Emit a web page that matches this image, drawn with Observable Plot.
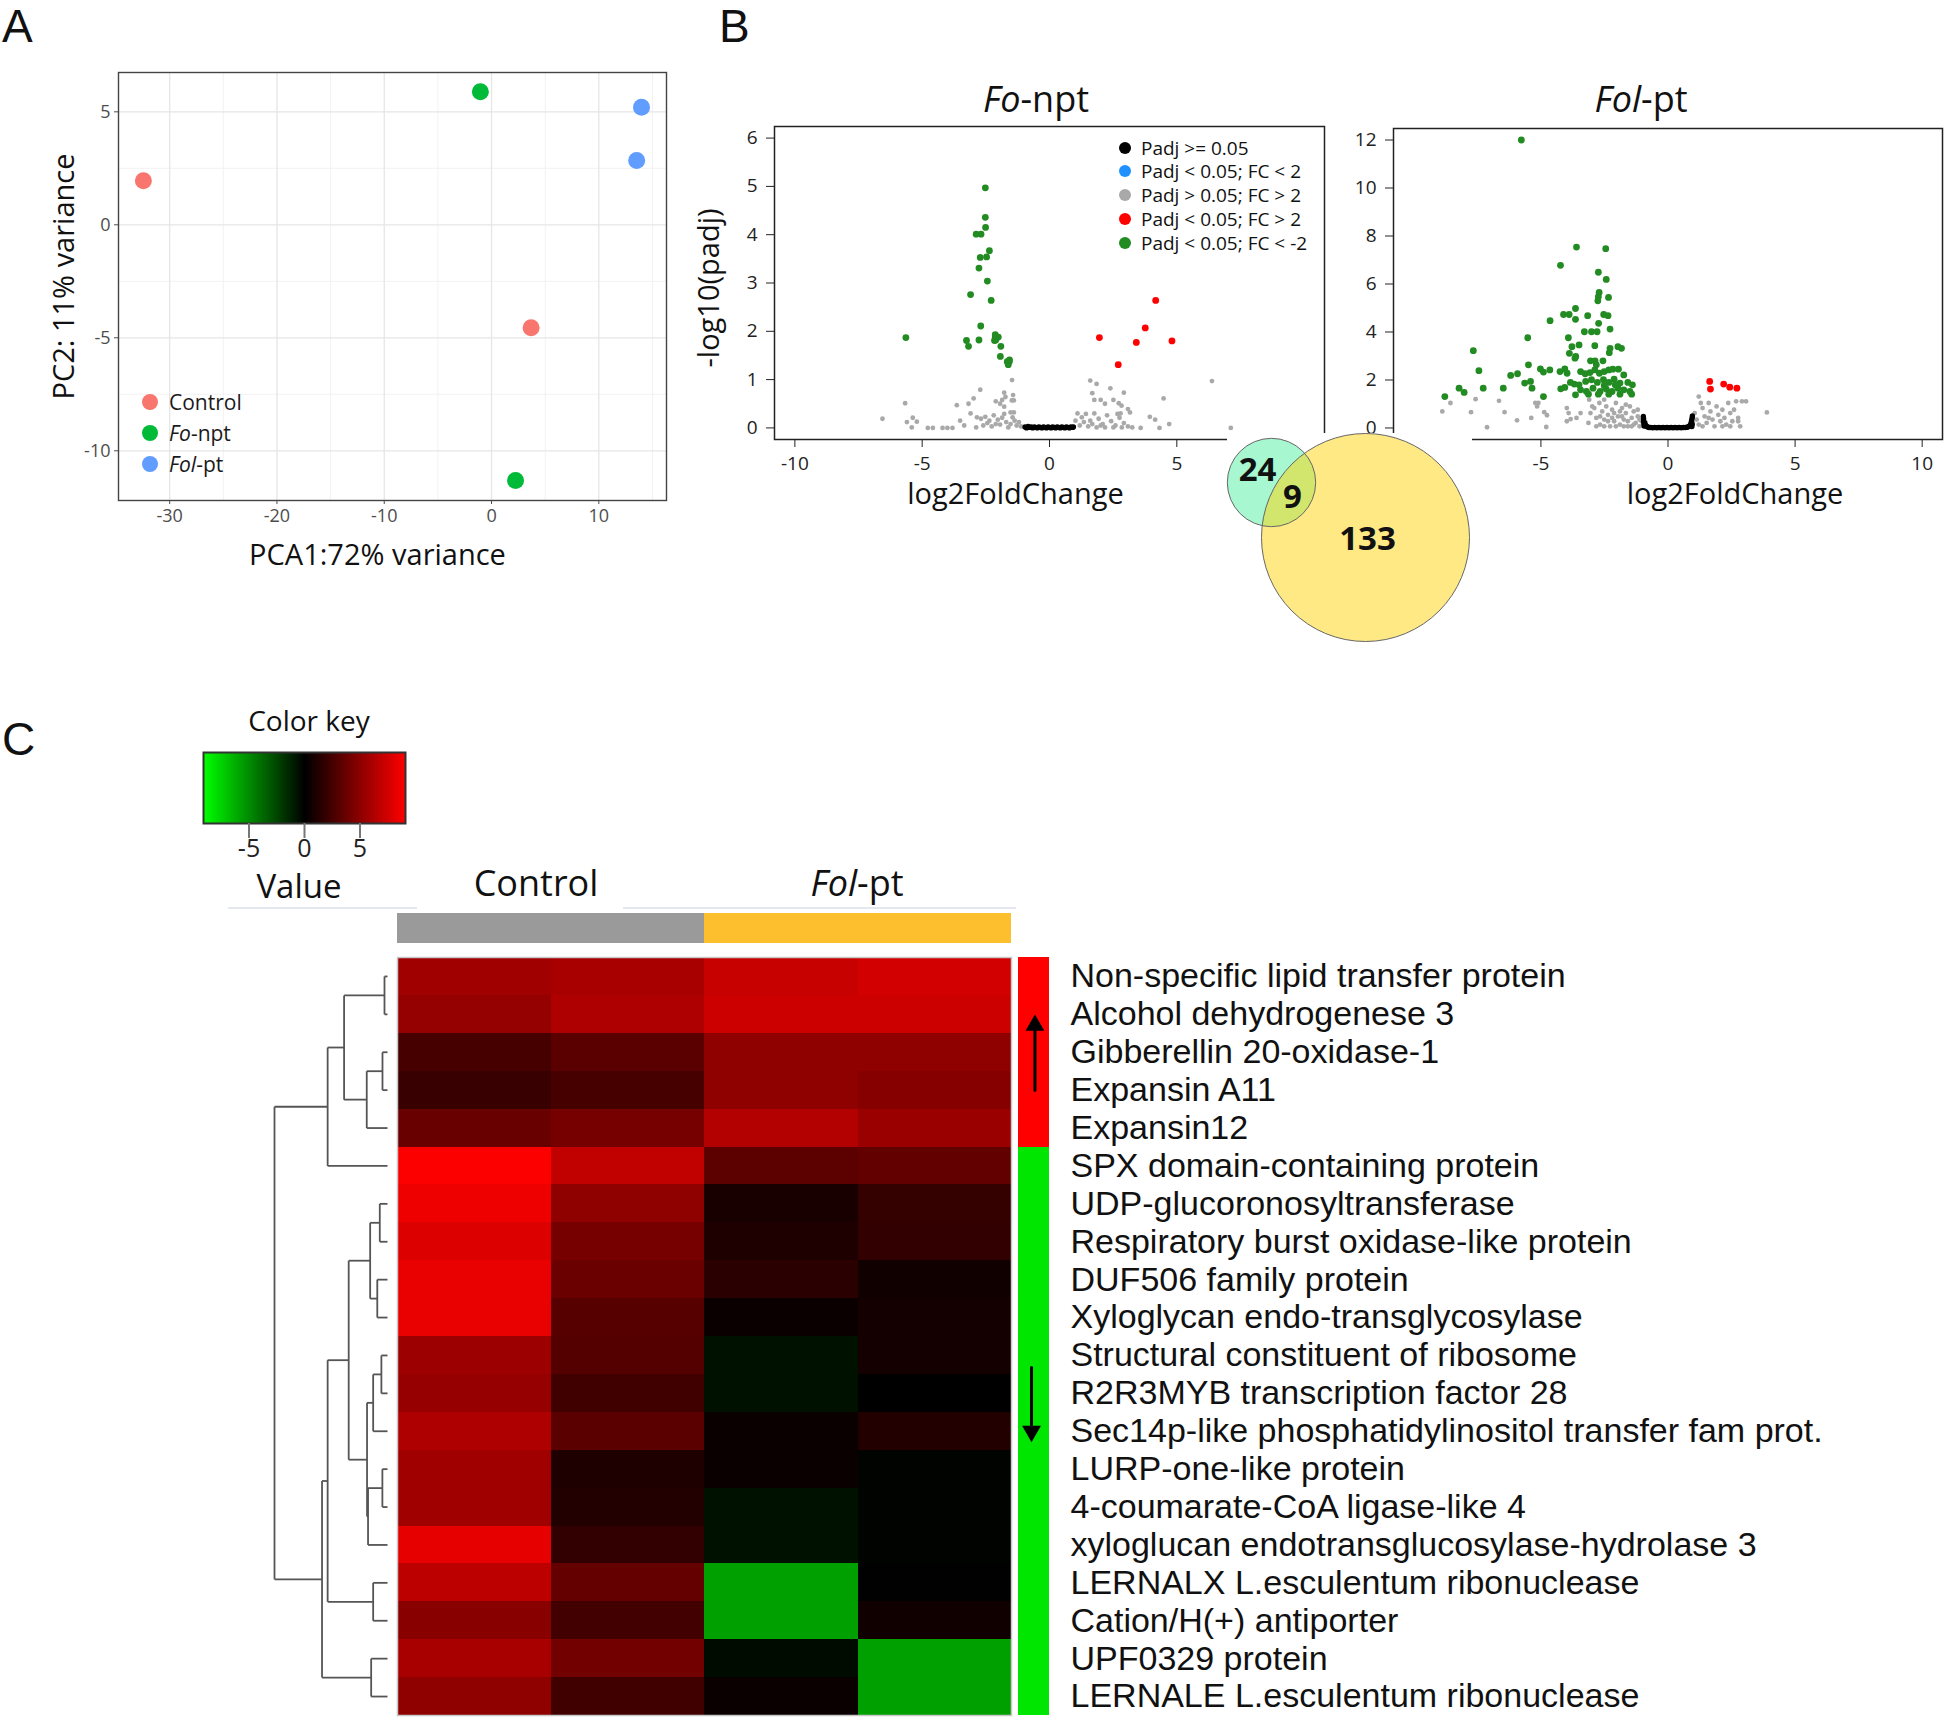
<!DOCTYPE html>
<html><head><meta charset="utf-8">
<script src="https://cdn.jsdelivr.net/npm/d3@7"></script>
<script src="https://cdn.jsdelivr.net/npm/@observablehq/plot@0.6"></script>
<style>
body{margin:0;background:#fff;}
#fig{position:relative;width:1946px;height:1723px;overflow:hidden;background:#fff;font-family:"Open Sans",sans-serif;}
</style></head><body><div id="fig"></div>
<script>
// ---------------- DATA ----------------
// Panel A: PCA
const pcaGroups = ["Control", "Control", "Fo-npt", "Fo-npt", "Fol-pt", "Fol-pt"];
const pcaPC1 = [-32.45, 3.69, -1.04, 2.24, 13.98, 13.53];
const pcaPC2 = [1.95, -4.56, 5.89, -11.32, 5.20, 2.85];
const pcaLegend = ["Control", "Fo-npt", "Fol-pt"];
const pcaXTicks = [-30, -20, -10, 0, 10];
const pcaYTicks = [-10, -5, 0, 5];
const pcaXMinor = [-25, -15, -5, 5, 15];
const pcaYMinor = [-7.5, -2.5, 2.5];

// Panel B: volcano plots
const volcanoCats = ["Padj >= 0.05", "Padj < 0.05; FC < 2", "Padj > 0.05; FC > 2", "Padj < 0.05; FC > 2", "Padj < 0.05; FC < -2"];
const volcanoXTicks = [-10, -5, 0, 5, 10];
const foNptYTicks = [0, 1, 2, 3, 4, 5, 6];
const folPtYTicks = [0, 2, 4, 6, 8, 10, 12];

const foNptDown = [[-2.52,4.97],[-2.52,4.36],[-2.51,4.15],[-2.88,4.01],[-2.69,4.01],[-2.36,3.67],[-2.72,3.53],[-2.47,3.54],[-2.77,3.31],[-2.44,3.04],[-3.10,2.76],[-2.29,2.64],[-2.70,2.11],[-5.64,1.87],[-3.26,1.81],[-3.18,1.69],[-2.77,1.82],[-2.13,1.93],[-2.01,1.88],[-2.16,1.81],[-1.91,1.69],[-1.93,1.48],[-1.66,1.37],[-1.58,1.37],[-1.62,1.31],[-2.13,1.88],[-1.57,1.41],[-2.11,1.82]];
const foNptUp = [[4.17,2.64],[3.76,2.07],[1.96,1.87],[3.41,1.77],[4.81,1.80],[2.70,1.31]];
const foNptNS = [[-6.56,0.19],[-5.67,0.51],[-5.60,0.12],[-5.41,0.01],[-5.37,0.21],[-5.21,0.13],[-4.78,0],[-4.58,0],[-4.20,0],[-4.01,0],[-3.81,0],[-3.64,0.47],[-3.51,0.15],[-3.35,0.05],[-3.18,0.50],[-3.10,0.30],[-2.98,0.61],[-2.72,0.79],[-1.47,0.99],[-1.78,0.73],[-1.86,0.58],[-1.73,0.64],[-2.11,0.55],[-1.43,0.68],[-1.48,0.57],[-1.40,0.57],[-1.94,0.50],[-1.78,0.44],[-1.53,0.32],[-1.40,0.32],[-2.85,0.22],[-2.69,0.19],[-2.52,0.23],[-2.36,0.15],[-2.19,0.26],[-2.03,0.17],[-1.86,0.21],[-1.70,0.12],[-1.53,0.08],[-1.37,0.15],[-1.29,0.05],[-1.12,0.03],[-2.60,0.05],[-2.27,0.03],[-1.94,0.07],[-1.62,0.01],[-2.88,0.01],[-2.44,0.10],[-2.11,0.08],[-1.45,0.22],[-1.20,0.12],[-1.78,0.29],
  [1.60,0.98],[1.85,0.91],[1.68,0.72],[2.39,0.82],[2.92,0.73],[1.76,0.58],[2.01,0.58],[2.51,0.58],[2.18,0.50],[2.72,0.51],[2.83,0.46],[3.08,0.39],[3.16,0.32],[2.79,0.30],[3.25,0.01],[3.58,0],[3.94,0.23],[4.15,0.17],[4.32,0],[4.48,0.61],[4.70,0.08],[6.38,0.97],[7.12,0],[1.10,0.30],[1.27,0.22],[1.43,0.29],[1.60,0.15],[1.76,0.30],[1.93,0.19],[2.09,0.08],[2.26,0.26],[2.42,0.14],[2.59,0.05],[2.75,0.21],[2.92,0.10],[3.08,0.03],[1.19,0.05],[1.52,0.03],[1.85,0.01],[2.18,0.01],[2.51,0.01],[2.84,0.01],[1.35,0.12],[1.68,0.08],[2.01,0.05],[1.02,0.15],[2.67,0.29]];
const foNptBase = [[-0.96,0.02],[-0.90,0.0],[-0.84,0.03],[-0.78,0.01],[-0.72,0.02],[-0.66,0.0],[-0.60,0.02],[-0.54,0.01],[-0.48,0.0],[-0.42,0.02],[-0.36,0.01],[-0.30,0.0],[-0.24,0.02],[-0.18,0.01],[-0.12,0.0],[-0.06,0.02],[0.0,0.01],[0.06,0.0],[0.12,0.02],[0.18,0.01],[0.24,0.0],[0.30,0.02],[0.36,0.01],[0.42,0.0],[0.48,0.02],[0.54,0.01],[0.60,0.0],[0.66,0.02],[0.72,0.01],[0.78,0.0],[0.84,0.02],[0.90,0.01],[0.94,0.02]];

const folPtDown = [[-5.77,12.0],[-3.60,7.54],[-2.45,7.47],[-4.23,6.78],[-2.74,6.49],[-2.43,6.19],[-2.71,5.65],[-2.74,5.47],[-2.34,5.44],[-2.76,5.30],[-3.64,4.98],[-4.11,4.73],[-3.89,4.73],[-3.16,4.68],[-2.53,4.73],[-2.36,4.68],[-3.64,4.53],[-4.64,4.47],[-2.73,4.36],[-2.28,4.12],[-3.29,4.01],[-3.01,4.01],[-2.79,4.01],[-5.52,3.76],[-3.92,3.76],[-3.78,3.39],[-3.50,3.46],[-2.88,3.43],[-2.28,3.32],[-1.97,3.39],[-1.83,3.32],[-2.31,3.14],[-7.66,3.22],[-3.88,3.11],[-3.66,2.91],[-3.63,2.98],[-3.05,2.80],[-2.87,2.80],[-2.56,2.80],[-2.82,2.63],[-5.49,2.63],[-7.44,2.39],[-5.02,2.46],[-4.90,2.33],[-4.65,2.42],[-4.25,2.35],[-4.06,2.46],[-3.97,2.28],[-3.44,2.35],[-3.26,2.26],[-3.07,2.31],[-2.88,2.42],[-2.70,2.28],[-2.51,2.35],[-2.33,2.42],[-2.17,2.45],[-1.95,2.45],[-1.74,2.21],[-6.19,2.19],[-5.92,2.26],[-5.64,1.87],[-5.41,1.94],[-5.35,1.66],[-3.84,1.90],[-3.69,1.83],[-3.24,1.94],[-3.01,2.01],[-2.78,1.90],[-2.54,2.01],[-2.33,1.90],[-2.12,2.03],[-1.89,1.87],[-1.58,1.90],[-1.40,1.80],[-8.22,1.66],[-8.02,1.48],[-7.27,1.66],[-6.48,1.66],[-4.22,1.63],[-4.06,1.69],[-3.44,1.59],[-3.21,1.52],[-2.95,1.66],[-2.67,1.52],[-2.43,1.62],[-2.20,1.52],[-1.97,1.66],[-1.74,1.59],[-1.50,1.52],[-8.78,1.31],[-4.90,1.31],[-3.64,1.38],[-3.13,1.41],[-2.74,1.41],[-2.33,1.41],[-1.89,1.41],[-1.43,1.41],[-3.50,1.80],[-2.51,1.76],[-2.08,1.80]];
const folPtUp = [[1.64,1.94],[1.67,1.62],[2.19,1.83],[2.43,1.70],[2.71,1.66]];
const folPtNS = [[-8.88,0.69],[-8.56,1.04],[-7.75,0.66],[-7.57,1.20],[-7.12,0.03],[-6.65,1.13],[-6.43,0.66],[-5.94,0.32],[-5.38,0.42],[-5.22,1.04],[-5.10,1.04],[-5.15,0.90],[-4.87,0.66],[-4.76,0.53],[-4.79,0.04],[-3.98,0.83],[-3.91,0.62],[-3.98,0.28],[-3.83,0.37],[-3.60,0.42],[-3.44,0.62],[-3.10,1.18],[-2.98,0.90],
  [-3.13,0.21],[-3.05,0.62],[-2.90,0.83],[-2.82,0.42],[-2.70,1.04],[-2.67,0.14],[-2.59,0.69],[-2.51,0.35],[-2.43,0.90],[-2.36,0.55],[-2.28,0.07],[-2.20,0.76],[-2.12,0.28],[-2.05,1.04],[-1.97,0.48],[-1.89,0.14],[-1.81,0.83],[-1.74,0.35],[-1.66,0.62],[-1.58,0.07],[-1.50,0.90],[-1.43,0.42],[-1.35,0.69],[-1.27,0.21],[-1.19,0.48],[-1.12,0.07],[-1.04,0.28],[-2.51,1.18],[-2.05,0.07],[-1.74,0.07],[-1.43,0.07],[-2.67,0.48],[-2.36,0.28],[-2.12,0.62],[-1.81,0.48],[-1.58,0.28],[-1.35,0.14],[-1.19,0.76],[-2.51,0.07],[-2.82,0.07],[-2.20,0.42],[-1.89,0.69],[-1.66,0.97],[-1.12,0.35],
  [1.21,1.31],[1.29,1.04],[1.05,0.62],[1.13,0.35],[1.21,0.14],[1.36,0.83],[1.44,0.48],[1.52,0.21],[1.60,1.04],[1.67,0.69],[1.75,0.35],[1.83,0.07],[1.91,0.90],[1.98,0.55],[2.06,0.28],[2.14,0.76],[2.22,0.42],[2.29,0.14],[2.37,1.04],[2.45,0.62],[2.53,0.28],[2.60,0.76],[2.68,1.11],[2.76,0.42],[2.84,0.07],[2.91,1.11],[3.07,1.11],[2.76,0.28],[3.89,0.65],[0.98,0.21],[1.36,0.07],[2.14,0.07],[2.45,0.07],[1.60,0.42]];
const folPtBase = [[-0.97,0.48],[-0.96,0.38],[-0.96,0.28],[-0.95,0.18],[-0.94,0.08],[-0.91,0.22],[-0.88,0.12],[-0.85,0.07],[-0.80,0.04],[-0.75,0.02],[-0.68,0.02],[-0.60,0.01],[-0.52,0.02],[-0.44,0.01],[-0.36,0.02],[-0.28,0.01],[-0.20,0.02],[-0.12,0.01],[-0.04,0.02],[0.04,0.01],[0.12,0.02],[0.20,0.01],[0.28,0.02],[0.36,0.01],[0.44,0.02],[0.52,0.01],[0.60,0.02],[0.68,0.02],[0.75,0.03],[0.80,0.05],[0.85,0.08],[0.88,0.13],[0.91,0.22],[0.93,0.32],[0.95,0.42],[0.96,0.50],[0.94,0.06],[0.95,0.16]];

// Venn counts (Fo-npt only, shared, Fol-pt only)
const vennLabels = ["Fo-npt only", "shared", "Fol-pt only"];
const vennCounts = [24, 9, 133];

// Panel C: heatmap
const genes = ["Non-specific lipid transfer protein", "Alcohol dehydrogenese 3", "Gibberellin 20-oxidase-1", "Expansin A11", "Expansin12", "SPX domain-containing protein", "UDP-glucoronosyltransferase", "Respiratory burst oxidase-like protein", "DUF506 family protein", "Xyloglycan endo-transglycosylase", "Structural constituent of ribosome", "R2R3MYB transcription factor 28", "Sec14p-like phosphatidylinositol transfer fam prot.", "LURP-one-like protein", "4-coumarate-CoA ligase-like 4", "xyloglucan endotransglucosylase-hydrolase 3", "LERNALX L.esculentum ribonuclease", "Cation/H(+) antiporter", "UPF0329 protein", "LERNALE L.esculentum ribonuclease"];
const geneDirection = ["up","up","up","up","up","down","down","down","down","down","down","down","down","down","down","down","down","down","down","down"];
const samples = ["Control 1", "Control 2", "Fol-pt 1", "Fol-pt 2"];
const sampleGroups = ["Control", "Control", "Fol-pt", "Fol-pt"];
const control1 = [5.7, 5.3, 2.5, 2.0, 3.7, 9.0, 8.5, 7.9, 8.3, 8.3, 5.6, 5.4, 6.2, 5.7, 5.7, 8.2, 6.7, 4.9, 6.0, 5.1];
const control2 = [6.0, 6.2, 3.2, 2.5, 4.2, 6.9, 5.1, 4.2, 3.8, 3.1, 3.0, 2.3, 3.2, 1.1, 1.2, 1.8, 3.6, 2.4, 4.1, 2.3];
const folpt1   = [7.1, 7.3, 5.1, 5.1, 6.4, 3.3, 0.85, 1.1, 1.55, 0.4, -0.6, -0.6, 0.35, 0.4, -0.6, -0.6, -5.7, -5.7, -0.4, 0.35];
const folpt2   = [7.5, 7.3, 5.1, 4.8, 5.5, 3.5, 1.9, 1.8, 0.6, 0.7, 0.7, 0.05, 1.2, -0.1, -0.1, -0.1, -0.05, 0.6, -5.7, -5.7];
const keyTicks = [-5, 0, 5];
// dendrogram merges (hclust style: negative = leaf index, positive = earlier merge), with merge height
const dendroMerges = [[-1,-2,3],[-3,-4,5],[2,-5,20.7],[1,3,43.3],[4,-6,59.7],[-7,-8,7.7],[-9,-10,10.2],[6,7,17.3],[-11,-12,6.1],[9,-13,14.3],[-14,-15,5.1],[11,-16,19.4],[10,12,20.4],[8,13,38.7],[-17,-18,14.3],[14,15,59.7],[-19,-20,16.3],[16,17,65.3],[5,18,112.7]];
// direction arrows next to the side bar (from row, to row)
const dirArrows = [{from: "Expansin A11", to: "Alcohol dehydrogenese 3", dir: "up"},
                   {from: "Structural constituent of ribosome", to: "Sec14p-like phosphatidylinositol transfer fam prot.", dir: "down"}];

// ---------------- STYLE ----------------
const pcaColors = ["#F8766D", "#00BA38", "#619CFF"];
const volcanoColors = ["#000000", "#1E90FF", "#A9A9A9", "#FF0000", "#228B22"];
const groupColors = {"Control": "#9a9a9a", "Fol-pt": "#fdbf2d"};
const dirColors = {"up": "#ff0000", "down": "#00e600"};
const ST = "background:transparent;overflow:visible;max-width:none;font-family:'Open Sans',sans-serif;";
const fmt = d => `${d}`;
const heatColor = {type: "linear", domain: [-9.1, 0, 9.1], range: ["#00ff00", "#000000", "#ff0000"], interpolate: "rgb"};

const fig = document.getElementById("fig");
function place(svg, left, top, bg) {
  svg.style.position = "absolute";
  svg.style.left = left + "px";
  svg.style.top = top + "px";
  if (bg) svg.style.background = bg;
  fig.appendChild(svg);
}

// ---------------- PANEL A ----------------
const pcaRows = pcaGroups.map((g, i) => ({group: g, pc1: pcaPC1[i], pc2: pcaPC2[i]}));
place(Plot.plot({
  width: 700, height: 560, marginLeft: 118, marginRight: 34, marginTop: 72, marginBottom: 60,
  style: ST,
  x: {domain: [-34.77, 16.31]}, y: {domain: [-12.2, 6.74]},
  color: {domain: pcaLegend, range: pcaColors},
  marks: [
    Plot.gridX(pcaXMinor, {stroke: "#f2f2f2", strokeOpacity: 1, strokeWidth: 1}),
    Plot.gridY(pcaYMinor, {stroke: "#f2f2f2", strokeOpacity: 1, strokeWidth: 1}),
    Plot.gridX(pcaXTicks, {stroke: "#e6e6e6", strokeOpacity: 1, strokeWidth: 1.3}),
    Plot.gridY(pcaYTicks, {stroke: "#e6e6e6", strokeOpacity: 1, strokeWidth: 1.3}),
    Plot.frame({stroke: "#444", strokeWidth: 1.4}),
    Plot.axisX(pcaXTicks, {tickSize: 4, tickPadding: 5, fontSize: 18, color: "#4d4d4d", tickFormat: fmt, label: null}),
    Plot.axisY(pcaYTicks, {tickSize: 4, tickPadding: 4, fontSize: 18, color: "#4d4d4d", tickFormat: fmt, label: null}),
    Plot.dot(pcaRows, {x: "pc1", y: "pc2", fill: "group", r: 8.5}),
    Plot.text(["PCA1:72% variance"], {text: d => d, frameAnchor: "bottom", lineAnchor: "middle", textAnchor: "middle", dx: -15, dy: 55, fontSize: 29, fill: "#111"}),
    Plot.text(["PC2: 11% variance"], {text: d => d, frameAnchor: "left", lineAnchor: "middle", textAnchor: "middle", rotate: -90, dx: -54, dy: -10, fontSize: 29, fill: "#111"})
  ]
}), 0, 0);

// ---------------- PANEL B ----------------
function volcano(o) {
  const rows = [];
  o.sets.forEach(([cat, arr]) => arr.forEach(([x, y]) => rows.push({cat, x, y})));
  const grey = rows.filter(d => d.cat === volcanoCats[2]);
  const base = rows.filter(d => d.cat === volcanoCats[0]);
  const sig = rows.filter(d => d.cat === volcanoCats[3] || d.cat === volcanoCats[4]);
  const marks = [
    Plot.dot(grey, {x: "x", y: "y", fill: "cat", r: 2.4}),
    Plot.dot(base, {x: "x", y: "y", fill: "cat", r: 2.7}),
    Plot.dot(sig, {x: "x", y: "y", fill: "cat", r: 3.4}),
    Plot.frame({stroke: "#222", strokeWidth: 1.5}),
    Plot.axisX(volcanoXTicks, {tickSize: 8, tickPadding: 9, fontSize: 19, color: "#222", tickFormat: fmt, label: null}),
    Plot.axisY(o.yTicks, {tickSize: 8, tickPadding: 9, fontSize: 19, color: "#222", tickFormat: fmt, label: null}),
    Plot.text(["log2FoldChange"], {text: d => d, frameAnchor: "bottom", lineAnchor: "middle", textAnchor: "middle", dx: o.xlabDx, dy: 55, fontSize: 29, fill: "#111"})
  ];
  if (o.ylab) marks.push(Plot.text([o.ylab], {text: d => d, frameAnchor: "left", lineAnchor: "middle", textAnchor: "middle", rotate: -90, dx: -65, dy: 5, fontSize: 29, fill: "#111"}));
  return Plot.plot({
    width: o.width, height: o.height, marginLeft: o.ml, marginRight: o.mr, marginTop: o.mt, marginBottom: o.mb,
    style: ST,
    x: {domain: [-10.8, 10.8]}, y: {domain: o.yDomain},
    color: {domain: volcanoCats, range: volcanoColors},
    marks
  });
}
place(volcano({
  width: 660, height: 470, ml: 94, mr: 16, mt: 76, mb: 81, yDomain: [-0.24, 6.24], yTicks: foNptYTicks,
  xlabDx: -34, ylab: "-log10(padj)",
  sets: [[volcanoCats[2], foNptNS], [volcanoCats[0], foNptBase], [volcanoCats[4], foNptDown], [volcanoCats[3], foNptUp]]
}), 680, 50);
place(volcano({
  width: 646, height: 470, ml: 93, mr: 4, mt: 78, mb: 81, yDomain: [-0.48, 12.48], yTicks: folPtYTicks,
  xlabDx: 67, ylab: null,
  sets: [[volcanoCats[2], folPtNS], [volcanoCats[0], folPtBase], [volcanoCats[4], folPtDown], [volcanoCats[3], folPtUp]]
}), 1300, 50);

// Venn diagram (radius ~ sqrt of unique counts)
const vennCircles = [{n: vennCounts[0], fill: "#a7f8d0"}, {n: vennCounts[2], fill: "#fdd30b"}];
const vennPos = [[44, 49], [138, 104]];          // layout of circle centres inside the Venn box
const vennTextPos = [[30, 37], [65, 64], [140, 106]];
place(Plot.plot({
  width: 245, height: 212, margin: 0,
  style: ST,
  x: {type: "identity", axis: null}, y: {type: "identity", axis: null},
  r: {type: "sqrt", domain: [0, 133], range: [0, 104]},
  marks: [
    Plot.dot([vennCircles[0]], {x: () => vennPos[0][0], y: () => vennPos[0][1], r: "n", fill: "fill", fillOpacity: 1, stroke: "none"}),
    Plot.dot([vennCircles[1]], {x: () => vennPos[1][0], y: () => vennPos[1][1], r: "n", fill: "fill", fillOpacity: 0.5, stroke: "none"}),
    Plot.dot(vennCircles, {x: (d, i) => vennPos[i][0], y: (d, i) => vennPos[i][1], r: "n", fill: "none", stroke: "#666", strokeWidth: 1}),
    Plot.text(vennCounts, {x: (d, i) => vennTextPos[i][0], y: (d, i) => vennTextPos[i][1], text: d => `${d}`, fontSize: 33, fontWeight: "bold", fill: "#111"})
  ]
}), 1227, 433, "#fff");

// ---------------- PANEL C ----------------
// colour key
const keyMarks = [];
if (typeof Plot.raster === "function") {
  keyMarks.push(Plot.raster({x1: -9.1, x2: 9.1, y1: 0, y2: 1, fill: (x, y) => x, pixelSize: 1}));
} else {
  const steps = d3.range(-9.1, 9.1, 0.1);
  keyMarks.push(Plot.rectX(steps, {x1: d => d, x2: d => d + 0.1, y1: 0, y2: 1, fill: d => d + 0.05}));
}
keyMarks.push(Plot.frame({stroke: "#333", strokeWidth: 2}));
keyMarks.push(Plot.axisX(keyTicks, {tickSize: 15, tickPadding: 1, fontSize: 25, stroke: "#777", strokeWidth: 2, fill: "#222", tickFormat: fmt, label: null}));
place(Plot.plot({
  width: 260, height: 130, marginLeft: 23, marginRight: 35, marginTop: 12, marginBottom: 47,
  style: ST,
  x: {domain: [-9.1, 9.1]}, y: {domain: [0, 1], axis: null},
  color: heatColor,
  marks: keyMarks
}), 180, 740);

// annotation bar
place(Plot.plot({
  width: 650, height: 45, marginLeft: 17, marginRight: 19, marginTop: 8, marginBottom: 7,
  style: ST,
  x: {domain: samples, axis: null, padding: 0, round: false}, y: {axis: null},
  marks: [Plot.cell(samples, {x: d => d, fill: (d, i) => groupColors[sampleGroups[i]], inset: 0, shapeRendering: "crispEdges"})]
}), 380, 905);

// heatmap cells
const heatRows = [];
const sampleValues = [control1, control2, folpt1, folpt2];
genes.forEach((g, r) => samples.forEach((s, c) => heatRows.push({gene: g, sample: s, value: sampleValues[c][r]})));
place(Plot.plot({
  width: 650, height: 783, marginLeft: 17, marginRight: 19, marginTop: 17, marginBottom: 8,
  style: ST,
  x: {domain: samples, axis: null, padding: 0, round: false},
  y: {domain: genes, axis: null, padding: 0, round: false},
  color: heatColor,
  marks: [
    Plot.cell(heatRows, {x: "sample", y: "gene", fill: "value", inset: 0, shapeRendering: "crispEdges"}),
    Plot.frame({stroke: "#c8c8c8", strokeWidth: 1.5})
  ]
}), 380, 940);

// dendrogram
const nodeY = [], nodeH = [], dSegs = [];
const childInfo = c => c < 0 ? {y: -c - 1 + 0.5, h: 0} : {y: nodeY[c - 1], h: nodeH[c - 1]};
dendroMerges.forEach(([a, b, h], i) => {
  const A = childInfo(a), B = childInfo(b);
  nodeY[i] = (A.y + B.y) / 2; nodeH[i] = h;
  dSegs.push({x1: h, y1: A.y, x2: h, y2: B.y});
  dSegs.push({x1: A.h, y1: A.y, x2: h, y2: A.y});
  dSegs.push({x1: B.h, y1: B.y, x2: h, y2: B.y});
});
place(Plot.plot({
  width: 147, height: 783, marginLeft: 24, marginRight: 10, marginTop: 17, marginBottom: 8,
  style: ST,
  x: {domain: [0, d3.max(nodeH)], reverse: true, axis: null},
  y: {domain: [0, genes.length], reverse: true, axis: null},
  marks: [Plot.link(dSegs, {x1: "x1", y1: "y1", x2: "x2", y2: "y2", stroke: "#555", strokeWidth: 1.8})]
}), 250, 940);

// side colour bar, arrows and row labels
const upA = dirArrows.filter(d => d.dir === "up"), downA = dirArrows.filter(d => d.dir === "down");
place(Plot.plot({
  width: 928, height: 783, marginLeft: 0, marginRight: 897, marginTop: 17, marginBottom: 8,
  style: ST,
  x: {domain: [0, 1], axis: null},
  y: {domain: genes, axis: null, padding: 0, round: false},
  marks: [
    Plot.barX(genes, {x1: 0, x2: 1, y: d => d, fill: (d, i) => dirColors[geneDirection[i]], inset: 0, shapeRendering: "crispEdges"}),
    Plot.arrow(upA, {x1: 0.53, x2: 0.53, y1: "from", y2: "to", stroke: "#000", strokeWidth: 3, headLength: 0, insetEnd: 10}),
    Plot.dot(upA, {x: 0.53, y: "to", symbol: "triangle", r: 7, fill: "#000", stroke: "none", dy: 11}),
    Plot.arrow(downA, {x1: 0.42, x2: 0.42, y1: "from", y2: "to", stroke: "#000", strokeWidth: 3, headLength: 0, insetStart: 12, insetEnd: 2}),
    Plot.dot(downA, {x: 0.42, y: "to", symbol: "triangle", rotate: 180, r: 7, fill: "#000", stroke: "none", dy: 0}),
    Plot.text(genes, {x: 1, y: d => d, text: d => d, dx: 21, textAnchor: "start", fontSize: 34, fontFamily: "'Liberation Sans', Arial, sans-serif", fill: "#111"})
  ]
}), 1018, 940);

// ---------------- TEXT OVERLAY (panel letters, titles, legends) ----------------
const ov = d3.select(fig).append("svg").attr("width", 1946).attr("height", 1723)
  .style("position", "absolute").style("left", "0px").style("top", "0px").style("pointer-events", "none")
  .style("font-family", "'Open Sans', sans-serif");
function txt(x, y, parts, o = {}) {
  const t = ov.append("text").attr("x", x).attr("y", y).attr("font-size", o.size || 20)
    .attr("text-anchor", o.anchor || "start").attr("font-weight", o.weight || 400).attr("fill", o.fill || "#111");
  if (o.baseline) t.attr("dominant-baseline", o.baseline);
  if (o.ls) t.attr("letter-spacing", o.ls);
  if (o.family) t.attr("font-family", o.family);
  for (const p of parts) {
    const s = t.append("tspan").text(typeof p === "string" ? p : p.i);
    if (typeof p !== "string") s.attr("font-style", "italic");
  }
}
const letterFont = "'Liberation Sans', Arial, sans-serif";
txt(2, 42, ["A"], {size: 46, family: letterFont});
txt(719, 42, ["B"], {size: 46, family: letterFont});
txt(2, 755, ["C"], {size: 46, family: letterFont});
txt(1036, 112, [{i: "Fo"}, "-npt"], {size: 36, anchor: "middle"});
txt(1641, 112, [{i: "Fol"}, "-pt"], {size: 36, anchor: "middle"});

// PCA legend
const pcaLegY = [402, 433, 464];
const pcaLegText = [["Control"], [{i: "Fo"}, "-npt"], [{i: "Fol"}, "-pt"]];
pcaLegend.forEach((g, i) => {
  ov.append("circle").attr("cx", 150).attr("cy", pcaLegY[i]).attr("r", 8).attr("fill", pcaColors[i]);
  txt(169, pcaLegY[i], pcaLegText[i], {size: 21, baseline: "central", fill: "#1a1a1a"});
});
// volcano legend
const volLegY = [148, 171, 195, 219, 243];
volcanoCats.forEach((c, i) => {
  ov.append("circle").attr("cx", 1125).attr("cy", volLegY[i]).attr("r", 6).attr("fill", volcanoColors[i]);
  txt(1141, volLegY[i], [c], {size: 19, baseline: "central", fill: "#111"});
});
// heatmap headers
txt(309, 731, ["Color key"], {size: 28, anchor: "middle"});
txt(299, 898, ["Value"], {size: 33, anchor: "middle"});
txt(536, 896, ["Control"], {size: 36, anchor: "middle"});
txt(857, 896, [{i: "Fol"}, "-pt"], {size: 36, anchor: "middle"});
ov.append("line").attr("x1", 228).attr("x2", 417).attr("y1", 908).attr("y2", 908).attr("stroke", "#e6e8ef").attr("stroke-width", 2);
ov.append("line").attr("x1", 623).attr("x2", 1016).attr("y1", 908).attr("y2", 908).attr("stroke", "#e6e8ef").attr("stroke-width", 2);
</script></body></html>
